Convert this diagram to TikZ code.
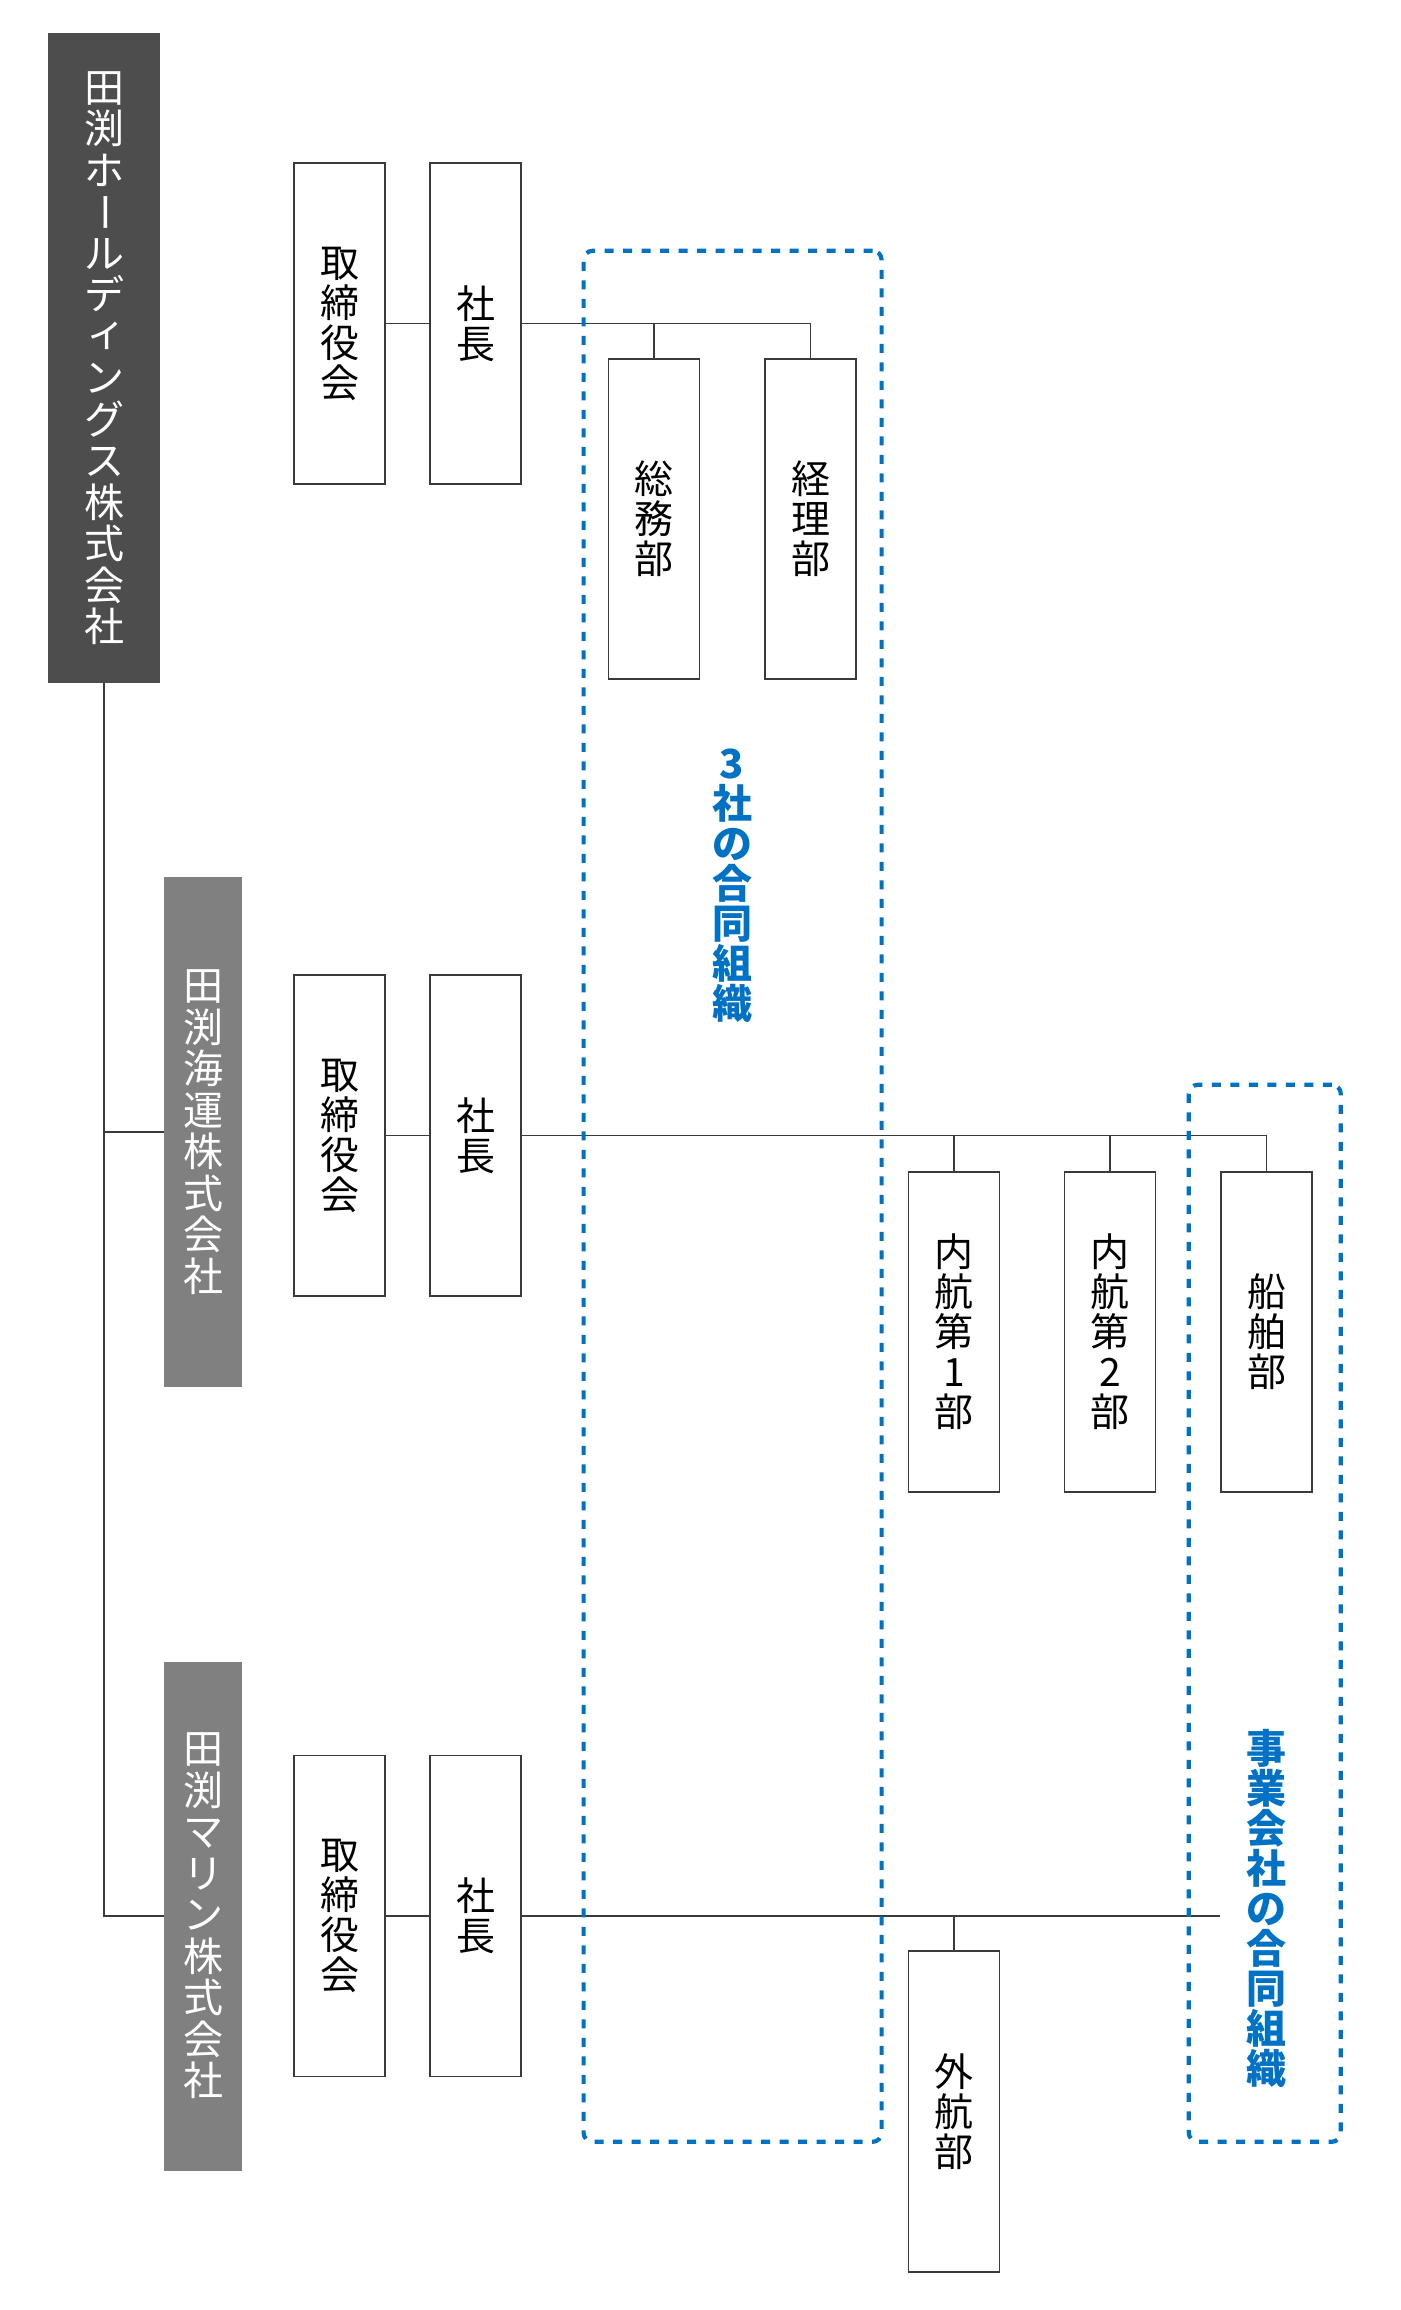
\documentclass[tikz,border=0pt]{standalone}
\usepackage{fontspec}
\setmainfont{Noto Sans CJK JP}

\definecolor{holdgray}{HTML}{4D4D4D}
\definecolor{subgray}{HTML}{808080}
\definecolor{jointblue}{HTML}{0072C6}
\definecolor{linegray}{HTML}{3A3A3A}

\newcommand{\chou}{\rotatebox[origin=c]{-90}{\vphantom{田}ー}}

\begin{document}
\begin{tikzpicture}[x=1pt, y=-1pt,
	company/.style={text=white, inner sep=0pt, align=center, font=\fontsize{40}{41.5}\selectfont},
	unit/.style={draw=linegray, line width=1.3pt, fill=white, minimum width=91pt, minimum height=321pt, inner sep=0pt, align=center, font=\fontsize{39}{40}\selectfont},
	conn/.style={draw=linegray, line width=1.2pt},
	joint/.style={draw=jointblue, line width=4.2pt, dash pattern=on 9pt off 9.5pt, rounded corners=9pt, inner sep=0pt},
	jointlabel/.style={text=jointblue, inner sep=0pt, align=center, font=\bfseries\fontsize{40}{40}\selectfont}]
\fill[white] (0,0) rectangle (1400,2310);
\useasboundingbox (0,0) rectangle (1400,2310);

\node[company, fill=holdgray, minimum width=112pt, minimum height=650pt] (hold) at (104,358) {田\\渕\\ホ\\\chou\\ル\\デ\\\raisebox{0.12em}{\kern0.1em ィ}\\ン\\グ\\ス\\株\\式\\会\\社};
\node[company, fill=subgray, minimum width=78pt, minimum height=510pt] (kaiun) at (203,1132) {田\\渕\\海\\運\\株\\式\\会\\社};
\node[company, fill=subgray, minimum width=78pt, minimum height=509pt] (marine) at (203,1916) {田\\渕\\マ\\リ\\ン\\株\\式\\会\\社};

\draw[conn] (hold.south) |- (marine.west);
\draw[conn] (hold.south |- kaiun.west) -- (kaiun.west);

\node[unit] (brd1) at (339.5,323.5) {取\\締\\役\\会};
\node[unit] (pres1) at (475.5,323.5) {社\\長};
\node[unit, minimum height=320pt] (soumu) at (654,519) {総\\務\\部};
\node[unit, minimum height=320pt] (keiri) at (810.5,519) {経\\理\\部};
\draw[conn] (brd1.east) -- (pres1.west);
\draw[conn] (pres1.east) -| (keiri.north);
\draw[conn] (soumu.north) -- (soumu.north |- pres1.east);

\node[unit] (brd2) at (339.5,1135.5) {取\\締\\役\\会};
\node[unit] (pres2) at (475.5,1135.5) {社\\長};
\node[unit, minimum height=320pt] (naikou1) at (954,1332) {内\\航\\第\\1\\部};
\node[unit, minimum height=320pt] (naikou2) at (1110,1332) {内\\航\\第\\2\\部};
\node[unit, minimum height=320pt] (senpaku) at (1266.5,1332) {船\\舶\\部};
\draw[conn] (brd2.east) -- (pres2.west);
\draw[conn] (pres2.east) -| (senpaku.north);
\draw[conn] (naikou1.north) -- (naikou1.north |- pres2.east);
\draw[conn] (naikou2.north) -- (naikou2.north |- pres2.east);

\node[unit] (brd3) at (339.5,1916) {取\\締\\役\\会};
\node[unit] (pres3) at (475.5,1916) {社\\長};
\node[unit] (gaikou) at (954,2111.5) {外\\航\\部};
\coordinate (end3) at (pres3.east -| senpaku.west);
\draw[conn] (brd3.east) -- (pres3.west);
\draw[conn] (pres3.east) -- (end3);
\draw[conn] (gaikou.north) -- (gaikou.north |- pres3.east);

\node[joint, minimum width=298pt, minimum height=1891pt] (joint3) at (732.6,1196.3) {};
\node[jointlabel] (joint3lbl) at (732,886) {3\\社\\の\\合\\同\\組\\織};
\node[joint, minimum width=152pt, minimum height=1057pt] (jointop) at (1264.8,1613.3) {};
\node[jointlabel] (jointoplbl) at (1266.5,1908) {事\\業\\会\\社\\の\\合\\同\\組\\織};
\end{tikzpicture}
\end{document}
